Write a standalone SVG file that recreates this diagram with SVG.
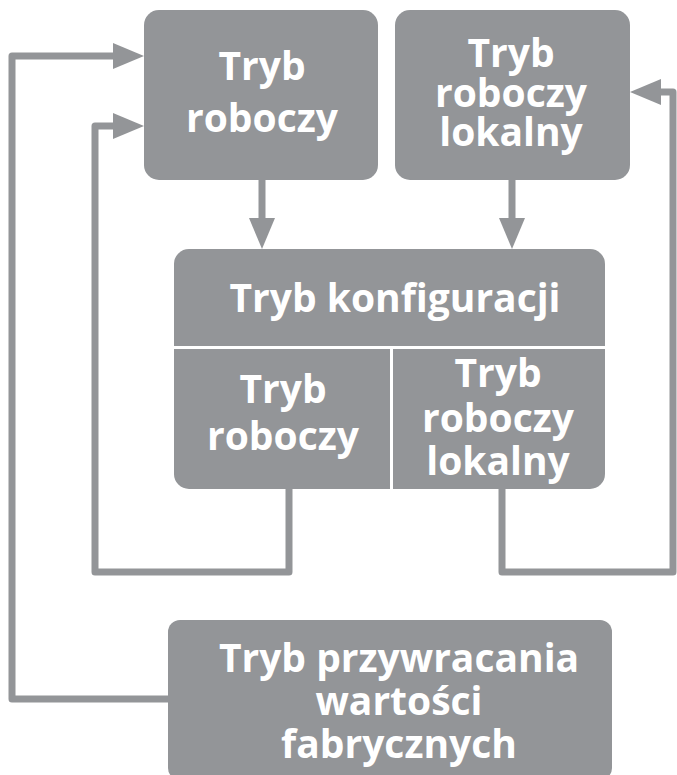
<svg xmlns="http://www.w3.org/2000/svg" width="677" height="775" viewBox="0 0 677 775">
<style>
.box{fill:#939598}
.t{font-family:"Open Sans","Liberation Sans",sans-serif;font-weight:bold;font-size:39px;fill:#fff;text-anchor:middle}
.ln{fill:none;stroke:#939598;stroke-width:7;stroke-linejoin:round}
.ah{fill:#939598}
.div{stroke:#fff;stroke-width:3}
</style>
<rect width="677" height="775" fill="#fff"/>
<g id="connectors">
<path class="ln" d="M168,699 H12 V56 H116"/>
<polygon class="ah" points="113,43 144,56 113,69"/>
<path class="ln" d="M289,489 V572 H95 V126 H116"/>
<polygon class="ah" points="113,113 144,126 113,139"/>
<path class="ln" d="M502,489 V572 H673 V92 H658"/>
<polygon class="ah" points="661,79 630,92 661,105"/>
<path class="ln" d="M262,180 V221"/>
<polygon class="ah" points="249,218 262,249 275,218"/>
<path class="ln" d="M512,180 V221"/>
<polygon class="ah" points="499,218 512,249 525,218"/>
</g>
<g id="node-tryb-roboczy">
<rect class="box" x="144" y="10" width="234" height="170" rx="15"/>
<text class="t" x="262" y="80">Tryb</text>
<text class="t" x="262" y="132">roboczy</text>
</g>
<g id="node-tryb-roboczy-lokalny">
<rect class="box" x="395" y="10" width="235" height="170" rx="15"/>
<text class="t" x="511" y="67">Tryb</text>
<text class="t" x="511" y="107">roboczy</text>
<text class="t" x="511" y="146">lokalny</text>
</g>
<g id="node-tryb-konfiguracji">
<rect class="box" x="174" y="249" width="431" height="240" rx="15"/>
<line class="div" x1="174" y1="347.5" x2="605" y2="347.5"/>
<line class="div" x1="391.5" y1="347" x2="391.5" y2="489"/>
<text class="t" x="395" y="312">Tryb konfiguracji</text>
<text class="t" x="283" y="403">Tryb</text>
<text class="t" x="283" y="450">roboczy</text>
<text class="t" x="498" y="387">Tryb</text>
<text class="t" x="498" y="432">roboczy</text>
<text class="t" x="498" y="475">lokalny</text>
</g>
<g id="node-tryb-przywracania">
<rect class="box" x="168" y="620" width="444" height="160" rx="12"/>
<text class="t" x="399" y="672">Tryb przywracania</text>
<text class="t" x="399" y="715">wartości</text>
<text class="t" x="399" y="758">fabrycznych</text>
</g>
</svg>
